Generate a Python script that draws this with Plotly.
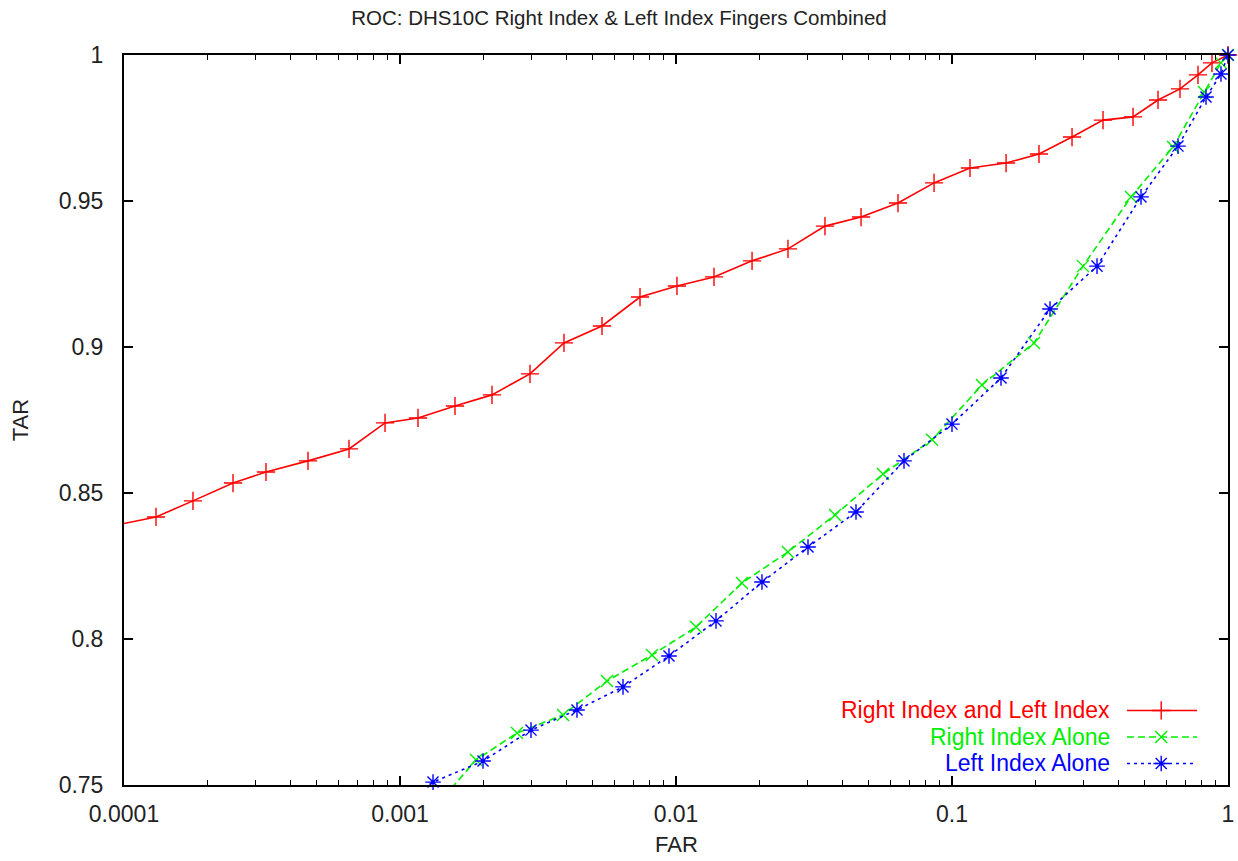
import plotly.graph_objects as go

# ---- data ----
far_both = [7.41e-5, 1.306e-4, 1.778e-4, 2.483e-4, 3.269e-4, 4.642e-4, 6.535e-4, 8.826e-4,
            1.162e-3, 1.582e-3, 2.154e-3, 2.958e-3, 3.928e-3, 5.394e-3, 7.406e-3, 1.008e-2,
            1.373e-2, 1.886e-2, 2.545e-2, 3.466e-2, 4.682e-2, 6.373e-2, 8.609e-2, 0.1162,
            0.157, 0.2066, 0.2722, 0.3525, 0.4528, 0.5578, 0.6700, 0.7786, 0.8750, 1.0]
tar_both = [0.8370, 0.8418, 0.8473, 0.8534, 0.8572, 0.8610, 0.8651, 0.8740,
            0.8757, 0.8798, 0.8836, 0.8908, 0.9014, 0.9072, 0.9171, 0.9209,
            0.9240, 0.9295, 0.9336, 0.9414, 0.9445, 0.9493, 0.9562, 0.9613,
            0.9630, 0.9661, 0.9719, 0.9777, 0.9788, 0.9846, 0.9884, 0.9932, 0.9973, 1.0]

far_right = [1.362e-3, 1.886e-3, 2.654e-3, 3.896e-3, 5.623e-3, 8.185e-3, 1.182e-2, 1.734e-2,
             2.545e-2, 3.768e-2, 5.623e-2, 8.464e-2, 0.1284, 0.1982, 0.2983, 0.4453,
             0.6322, 0.8185, 0.9432, 1.0]
tar_right = [0.7432, 0.7586, 0.7678, 0.7740, 0.7856, 0.7945, 0.8041, 0.8192,
             0.8298, 0.8425, 0.8565, 0.8682, 0.8870, 0.9014, 0.9277, 0.9514,
             0.9685, 0.9873, 0.9973, 1.0]

far_left = [9.05e-4, 1.317e-3, 1.999e-3, 2.983e-3, 4.378e-3, 6.427e-3, 9.433e-3, 1.396e-2,
            2.049e-2, 3.008e-2, 4.489e-2, 6.70e-2, 0.1, 0.1505, 0.2265, 0.3353,
            0.484, 0.6589, 0.8324, 0.9432, 1.0]
tar_left = [0.7414, 0.7510, 0.7582, 0.7688, 0.7757, 0.7836, 0.7942, 0.8062,
            0.8195, 0.8315, 0.8435, 0.8610, 0.8736, 0.8894, 0.9130, 0.9277,
            0.9514, 0.9688, 0.9856, 0.9935, 1.0]

series_names = ["Right Index and Left Index", "Right Index Alone", "Left Index Alone"]
x_tick_vals = [1e-4, 1e-3, 1e-2, 1e-1, 1]
x_tick_text = ["0.0001", "0.001", "0.01", "0.1", "1"]
y_tick_vals = [0.75, 0.8, 0.85, 0.9, 0.95, 1.0]
y_tick_text = ["0.75", "0.8", "0.85", "0.9", "0.95", "1"]
x_minor = [m * 10.0 ** e for e in range(-4, 0) for m in range(2, 10)]

FONT = "Liberation Sans, Arial, Helvetica, sans-serif"
styles = [
    dict(color="#ff0000", dash="solid", symbol="cross-thin", size=13),
    dict(color="#00ee00", dash="7px,4px", symbol="x-thin", size=12),
    dict(color="#0000ff", dash="3px,4px", symbol="asterisk", size=13),
]
data = [(far_both, tar_both), (far_right, tar_right), (far_left, tar_left)]

fig = go.Figure()
for (xs, ys), st in zip(data, styles):
    fig.add_trace(go.Scatter(x=xs, y=ys, mode="lines",
                             line=dict(color=st["color"], width=1.6, dash=st["dash"]),
                             showlegend=False, hoverinfo="skip"))
    xin = [x for x, y in zip(xs, ys) if y >= 0.75 and x >= 1e-4]
    yin = [y for x, y in zip(xs, ys) if y >= 0.75 and x >= 1e-4]
    fig.add_trace(go.Scatter(x=xin, y=yin, mode="markers", cliponaxis=False,
                             marker=dict(symbol=st["symbol"], size=st["size"],
                                         color=st["color"],
                                         line=dict(color=st["color"], width=1.4)),
                             showlegend=False))

# gnuplot-style key (text on left, sample on right)
key_rows = [0.1021, 0.0658, 0.0295]
for name, st, ry in zip(series_names, styles, key_rows):
    fig.add_trace(go.Scatter(x=[0.9085, 0.972], y=[ry, ry], mode="lines",
                             xaxis="x2", yaxis="y2",
                             line=dict(color=st["color"], width=1.6, dash=st["dash"]),
                             showlegend=False, hoverinfo="skip"))
    fig.add_trace(go.Scatter(x=[0.9395], y=[ry], mode="markers", xaxis="x2", yaxis="y2",
                             marker=dict(symbol=st["symbol"], size=st["size"],
                                         color=st["color"],
                                         line=dict(color=st["color"], width=1.4)),
                             showlegend=False, hoverinfo="skip"))
    fig.add_annotation(x=0.895, y=ry, xref="paper", yref="paper", text=name,
                       showarrow=False, xanchor="right", yanchor="middle",
                       font=dict(family=FONT, size=23, color=st["color"]))

axis_common = dict(showline=True, linecolor="black", linewidth=2, mirror="allticks",
                   ticks="inside", ticklen=9, tickwidth=1.5, tickcolor="black",
                   showgrid=False, zeroline=False, automargin=False,
                   tickfont=dict(family=FONT, size=23, color="#222222"))

fig.update_layout(
    width=1238, height=861,
    margin=dict(l=124, r=10, t=55, b=76, autoexpand=False),
    paper_bgcolor="white", plot_bgcolor="white",
    title=dict(text="ROC: DHS10C Right Index & Left Index Fingers Combined",
               x=0.5, xref="container", xanchor="center",
               y=1 - 18 / 861, yref="container", yanchor="middle",
               font=dict(family=FONT, size=20.5, color="#222222")),
    xaxis=dict(type="log", range=[-4, 0], tickvals=x_tick_vals, ticktext=x_tick_text,
               minor=dict(tickvals=x_minor, ticks="inside", ticklen=5, tickwidth=1.2,
                          tickcolor="black", showgrid=False),
               ticklabelstandoff=7, **axis_common),
    yaxis=dict(range=[0.75, 1.0], tickvals=y_tick_vals, ticktext=y_tick_text,
               ticklabelstandoff=14, **axis_common),
    xaxis2=dict(overlaying="x", range=[0, 1], visible=False),
    yaxis2=dict(overlaying="y", range=[0, 1], visible=False),
    showlegend=False,
)
fig.add_annotation(x=0.5, y=-0.082, xref="paper", yref="paper", text="FAR",
                   showarrow=False, xanchor="center", yanchor="middle",
                   font=dict(family=FONT, size=22, color="#222222"))
fig.add_annotation(x=-0.094, y=0.5, xref="paper", yref="paper", text="TAR",
                   showarrow=False, xanchor="center", yanchor="middle", textangle=-90,
                   font=dict(family=FONT, size=22, color="#222222"))

fig.write_html("out.html")
